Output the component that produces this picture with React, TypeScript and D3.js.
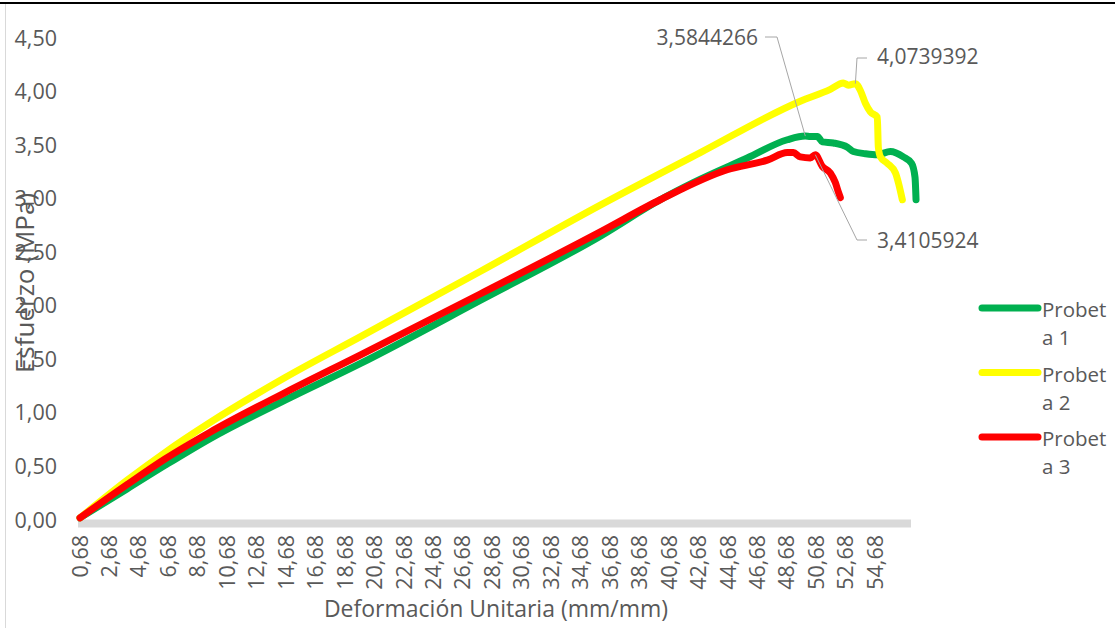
import React from "react";
import * as d3 from "d3";

const xTickValues = [0.68, 2.68, 4.68, 6.68, 8.68, 10.68, 12.68, 14.68, 16.68, 18.68, 20.68, 22.68, 24.68, 26.68, 28.68, 30.68, 32.68, 34.68, 36.68, 38.68, 40.68, 42.68, 44.68, 46.68, 48.68, 50.68, 52.68, 54.68];
const xTickLabels = ["0,68", "2,68", "4,68", "6,68", "8,68", "10,68", "12,68", "14,68", "16,68", "18,68", "20,68", "22,68", "24,68", "26,68", "28,68", "30,68", "32,68", "34,68", "36,68", "38,68", "40,68", "42,68", "44,68", "46,68", "48,68", "50,68", "52,68", "54,68"];
const yTickValues = [0, 0.5, 1, 1.5, 2, 2.5, 3, 3.5, 4, 4.5];
const yTickLabels = ["0,00", "0,50", "1,00", "1,50", "2,00", "2,50", "3,00", "3,50", "4,00", "4,50"];

const seriesNames = ["Probeta 1", "Probeta 2", "Probeta 3"];
const seriesColors = ["#00b050", "#ffff00", "#ff0000"];

const p1Strain = [0.68, 3.87, 6.45, 9.51, 14.61, 19.7, 27.85, 36.01, 40.08, 42.32, 45.99, 48.71, 49.93, 50.27, 50.75, 51.09, 51.84, 52.79, 53.19, 54.01, 54.82, 55.71, 56.59, 57.15, 57.38, 57.45];
const p1Stress = [0.02, 0.29, 0.51, 0.76, 1.12, 1.46, 2.05, 2.65, 2.99, 3.15, 3.38, 3.55, 3.5844, 3.58, 3.58, 3.53, 3.52, 3.48, 3.44, 3.42, 3.41, 3.44, 3.39, 3.33, 3.2, 2.99];

const p2Strain = [0.68, 3.87, 6.45, 9.51, 14.61, 19.7, 27.85, 36.01, 42.8, 49.59, 51.63, 52.51, 52.85, 53.33, 53.67, 54.01, 54.35, 54.82, 54.89, 55.03, 55.5, 56.05, 56.25, 56.52];
const p2Stress = [0.02, 0.37, 0.63, 0.91, 1.33, 1.71, 2.32, 2.94, 3.43, 3.91, 4.02, 4.08, 4.06, 4.0739, 4.01, 3.89, 3.81, 3.76, 3.48, 3.39, 3.33, 3.24, 3.15, 2.99];

const p3Strain = [0.68, 3.87, 6.45, 9.51, 14.61, 19.7, 27.85, 36.01, 40.08, 44.63, 47.35, 48.71, 49.12, 49.59, 50.27, 50.61, 51.09, 51.63, 51.97, 52.18, 52.31];
const p3Stress = [0.02, 0.33, 0.57, 0.82, 1.19, 1.54, 2.11, 2.69, 2.99, 3.27, 3.36, 3.43, 3.43, 3.39, 3.38, 3.4106, 3.3, 3.24, 3.15, 3.06, 3.01];

const labelTexts = ["3,5844266", "4,0739392", "3,4105924"];
const labelStrain = [49.93, 53.33, 50.61];
const labelStress = [3.5844, 4.0739, 3.4106];

const FONT = "'Open Sans', 'Noto Sans', sans-serif";
const TXT = "#595959";

export default function App() {
  const x = d3.scaleLinear().domain([0.68, 57.04]).range([80, 910]);
  const y = d3.scaleLinear().domain([0, 4.5]).range([520, 38]);
  const line = d3
    .line<[number, number]>()
    .x((d) => x(d[0]))
    .y((d) => y(d[1]))
    .curve(d3.curveMonotoneX);

  const series = [
    p1Strain.map((s, i) => [s, p1Stress[i]] as [number, number]),
    p2Strain.map((s, i) => [s, p2Stress[i]] as [number, number]),
    p3Strain.map((s, i) => [s, p3Stress[i]] as [number, number]),
  ];

  const anchors = labelStrain.map((s, i) => [x(s), y(labelStress[i])]);

  return (
    <div style={{ position: "fixed", left: 0, top: 0 }}>
      <svg width={1115} height={628} style={{ display: "block", background: "#fff" }} fontFamily={FONT}>
        <rect x={0} y={0} width={1115} height={628} fill="#ffffff" />
        <line x1={0} x2={1115} y1={3} y2={3} stroke="#000" strokeWidth={2} />
        <line x1={5.5} x2={5.5} y1={4} y2={628} stroke="#d9d9d9" strokeWidth={1} />

        {yTickValues.map((v, i) => (
          <text key={"yt" + i} x={57} y={y(v)} dy="0.35em" textAnchor="end" fontSize={21.5} fill={TXT}>
            {yTickLabels[i]}
          </text>
        ))}

        <line x1={78} x2={911} y1={523.5} y2={523.5} stroke="#d9d9d9" strokeWidth={8} />

        {xTickValues.map((v, i) => (
          <text
            key={"xt" + i}
            transform={`translate(${x(v)},535) rotate(-90)`}
            dy="0.35em"
            textAnchor="end"
            fontSize={21.5}
            fill={TXT}
          >
            {xTickLabels[i]}
          </text>
        ))}

        <text x={496} y={617} textAnchor="middle" fontSize={23} fill={TXT}>
          Deformación Unitaria (mm/mm)
        </text>
        <text transform="translate(34,283) rotate(-90)" textAnchor="middle" fontSize={26} fill={TXT}>
          Esfuerzo (MPa)
        </text>

        {series.map((d, i) => (
          <path
            key={"s" + i}
            d={line(d) || ""}
            fill="none"
            stroke={seriesColors[i]}
            strokeWidth={7}
            strokeLinecap="round"
            strokeLinejoin="round"
          />
        ))}

        <polyline
          points={`765,37 777,37 ${anchors[0][0]},${anchors[0][1]}`}
          fill="none"
          stroke="#a6a6a6"
          strokeWidth={1}
        />
        <text x={758} y={38} dy="0.35em" textAnchor="end" fontSize={21} fill={TXT}>
          {labelTexts[0]}
        </text>
        <polyline
          points={`${anchors[1][0]},${anchors[1][1]} 857,58 867,58`}
          fill="none"
          stroke="#a6a6a6"
          strokeWidth={1}
        />
        <text x={877} y={57} dy="0.35em" fontSize={21} fill={TXT}>
          {labelTexts[1]}
        </text>
        <polyline
          points={`${anchors[2][0]},${anchors[2][1]} 857,240 867,240`}
          fill="none"
          stroke="#a6a6a6"
          strokeWidth={1}
        />
        <text x={877} y={241} dy="0.35em" fontSize={21} fill={TXT}>
          {labelTexts[2]}
        </text>

        {seriesNames.map((name, i) => {
          const cy = 308 + i * 64.5;
          return (
            <g key={"lg" + i}>
              <line x1={982} x2={1038} y1={cy} y2={cy} stroke={seriesColors[i]} strokeWidth={7} strokeLinecap="round" />
              <text x={1042} y={cy + 9} fontSize={20.5} fill={TXT}>
                {name.slice(0, 6)}
              </text>
              <text x={1042} y={cy + 37} fontSize={20.5} fill={TXT}>
                {name.slice(6).trim()}
              </text>
            </g>
          );
        })}
      </svg>
    </div>
  );
}
